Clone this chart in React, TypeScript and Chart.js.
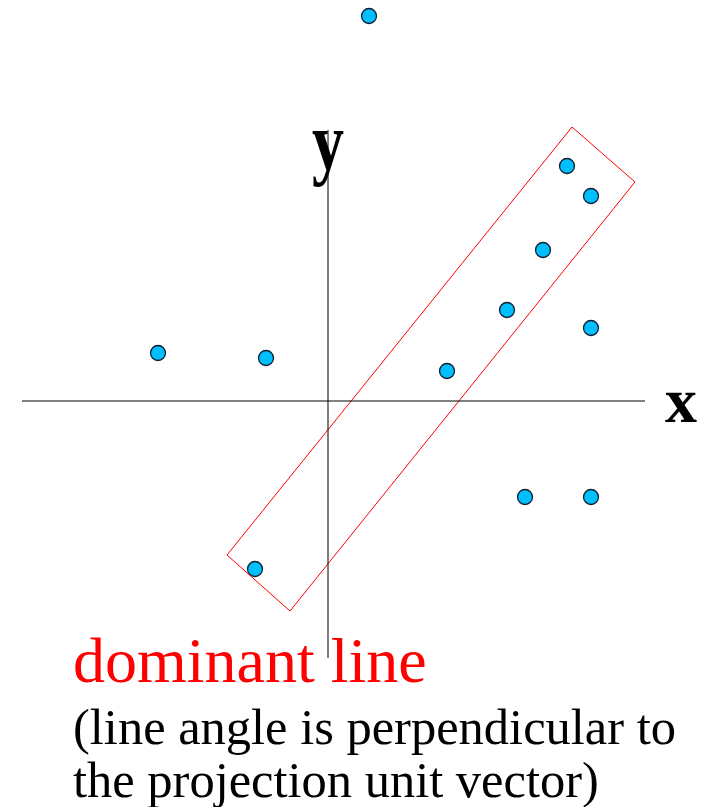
import React, { useEffect, useRef } from "react";
import { Chart, registerables } from "chart.js";

Chart.register(...registerables);

// Data points (x, y) in chart units
const pointsX = [4.1, 23.9, 26.3, 21.5, 17.9, 26.3, -17.0, -6.2, 11.9, 19.7, 26.3, -7.3];
const pointsY = [38.5, 23.5, 20.5, 15.1, 9.1, 7.3, 4.8, 4.3, 3.0, -9.6, -9.6, -16.8];

// Dominant line box corners (closed polygon)
const boxX = [-10.1, -3.8, 30.7, 24.4, -10.1];
const boxY = [-15.4, -21.0, 21.9, 27.4, -15.4];

// Axis extents
const xAxisRange = [-30.6, 31.7];
const yAxisRange = [-25.7, 27.1];

// Scale bounds
const xBounds = [-32.8, 38.3];
const yBounds = [-40.6, 40.1];

// Labels
const xLabel = "x";
const yLabel = "y";
const captionTitle = "dominant line";
const captionLines = ["(line angle is perpendicular to", "the projection unit vector)"];
// label anchor positions in chart units
const xLabelPos = [33.7, -2.1];
const yLabelPos = [-1.6, 23.2];
const captionPos = [-25.5, -28.1];
const captionLineY = [-34.3, -39.6];

const SERIF = '"Liberation Serif", "Times New Roman", serif';

const textPlugin = {
  id: "textLabels",
  afterDatasetsDraw(chart: any) {
    const { ctx, scales } = chart;
    const sx = scales.x;
    const sy = scales.y;
    ctx.save();
    ctx.textBaseline = "alphabetic";
    ctx.textAlign = "left";
    // x label
    ctx.fillStyle = "#000";
    ctx.font = `bold 64px ${SERIF}`;
    ctx.fillText(xLabel, sx.getPixelForValue(xLabelPos[0]), sy.getPixelForValue(xLabelPos[1]));
    // y label (vertically stretched)
    const yx = sx.getPixelForValue(yLabelPos[0]);
    const yy = sy.getPixelForValue(yLabelPos[1]);
    ctx.save();
    ctx.translate(yx, yy);
    ctx.scale(1, 1.28);
    ctx.font = `bold 64px ${SERIF}`;
    ctx.fillText(yLabel, 0, 0);
    ctx.restore();
    // caption
    ctx.fillStyle = "#ff0000";
    ctx.font = `64px ${SERIF}`;
    const cx = sx.getPixelForValue(captionPos[0]);
    ctx.fillText(captionTitle, cx, sy.getPixelForValue(captionPos[1]));
    ctx.fillStyle = "#000";
    ctx.font = `50.5px ${SERIF}`;
    captionLines.forEach((t, i) => {
      ctx.fillText(t, cx, sy.getPixelForValue(captionLineY[i]));
    });
    ctx.restore();
  },
};

export default function App() {
  const ref = useRef<HTMLCanvasElement>(null);
  useEffect(() => {
    if (!ref.current) return;
    const chart = new Chart(ref.current, {
      type: "scatter",
      data: {
        datasets: [
          {
            label: "x axis",
            data: xAxisRange.map((x) => ({ x, y: 0 })),
            showLine: true,
            borderColor: "#000",
            borderWidth: 1,
            pointRadius: 0,
            clip: false,
          } as any,
          {
            label: "y axis",
            data: yAxisRange.map((y) => ({ x: 0, y })),
            showLine: true,
            borderColor: "#000",
            borderWidth: 1,
            pointRadius: 0,
            clip: false,
          },
          {
            label: "box",
            data: boxX.map((x, i) => ({ x, y: boxY[i] })),
            showLine: true,
            borderColor: "#ff0000",
            borderWidth: 1,
            pointRadius: 0,
            tension: 0,
            clip: false,
          },
          {
            label: "points",
            data: pointsX.map((x, i) => ({ x, y: pointsY[i] })),
            backgroundColor: "#00bfff",
            borderColor: "#0f1f2f",
            borderWidth: 1.3,
            pointRadius: 7.5,
            clip: false,
          },
        ],
      },
      options: {
        responsive: false,
        animation: false,
        devicePixelRatio: 1,
        layout: { padding: 0, autoPadding: false },
        scales: {
          x: { type: "linear", display: false, min: xBounds[0], max: xBounds[1] },
          y: { type: "linear", display: false, min: yBounds[0], max: yBounds[1] },
        },
        plugins: {
          legend: { display: false },
          tooltip: { enabled: false },
        },
      },
      plugins: [textPlugin],
    });
    return () => chart.destroy();
  }, []);
  return (
    <div style={{ position: "absolute", left: 0, top: 0, width: 711, height: 807, background: "#fff" }}>
      <canvas ref={ref} width={711} height={807} />
    </div>
  );
}
